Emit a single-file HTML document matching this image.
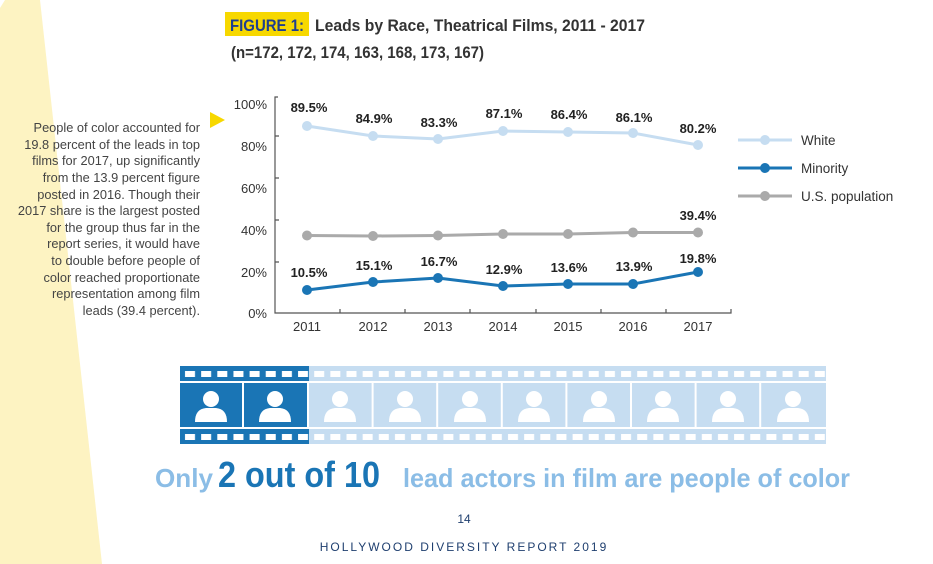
<!DOCTYPE html>
<html><head><meta charset="utf-8"><style>
html,body{margin:0;padding:0;background:#fff;}
svg{display:block;font-family:"Liberation Sans",sans-serif;}
</style></head><body>
<svg width="933" height="564" viewBox="0 0 933 564" xmlns="http://www.w3.org/2000/svg">
<defs>
<pattern id="holesD" x="182" y="0" width="16.15" height="564" patternUnits="userSpaceOnUse">
<rect x="0" y="0" width="16.15" height="564" fill="#1a75b5"/>
<rect x="3" y="371" width="10" height="6" fill="#fff"/>
<rect x="3" y="434" width="10" height="6" fill="#fff"/>
</pattern>
<pattern id="holesL" x="182" y="0" width="16.15" height="564" patternUnits="userSpaceOnUse">
<rect x="0" y="0" width="16.15" height="564" fill="#c6ddf1"/>
<rect x="3" y="371" width="10" height="6" fill="#fff"/>
<rect x="3" y="434" width="10" height="6" fill="#fff"/>
</pattern>
<g id="person"><circle cx="0" cy="-9" r="8" fill="#fff"/><path d="M-16 14 Q-16 1 -5 0 L5 0 Q16 1 16 14 Z" fill="#fff"/></g>
</defs>
<polygon points="5,0 40,0 102,564 0,564 0,8" fill="#fdf3c2"/>
<!-- title -->
<rect x="225" y="12" width="84" height="24" fill="#f7d800"/>
<text x="230" y="31" font-size="16.5" font-weight="bold" fill="#1f3f8f" textLength="74" lengthAdjust="spacingAndGlyphs">FIGURE 1:</text>
<text x="315" y="31" font-size="16.5" font-weight="bold" fill="#333" textLength="330" lengthAdjust="spacingAndGlyphs">Leads by Race, Theatrical Films, 2011 - 2017</text>
<text x="231" y="58" font-size="16.5" font-weight="bold" fill="#333" textLength="253" lengthAdjust="spacingAndGlyphs">(n=172, 172, 174, 163, 168, 173, 167)</text>
<!-- side text -->
<g font-size="12.8" fill="#444" text-anchor="end">
<text x="200" y="132">People of color accounted for</text>
<text x="200" y="149">19.8 percent of the leads in top</text>
<text x="200" y="165">films for 2017, up significantly</text>
<text x="200" y="182">from the 13.9 percent figure</text>
<text x="200" y="199">posted in 2016. Though their</text>
<text x="200" y="215">2017 share is the largest posted</text>
<text x="200" y="232">for the group thus far in the</text>
<text x="200" y="248">report series, it would have</text>
<text x="200" y="265">to double before people of</text>
<text x="200" y="282">color reached proportionate</text>
<text x="200" y="298">representation among film</text>
<text x="200" y="315">leads (39.4 percent).</text>
</g>
<polygon points="210,112 225,120 210,128" fill="#f7d800"/>
<!-- axes -->
<g stroke="#555" stroke-width="1.2" fill="none">
<path d="M278,97 L275,97 L275,313 L731,313 L731,309"/>
<path d="M275,136 h4 M275,178 h4 M275,220 h4 M275,262 h4"/>
<path d="M340,313 v-4 M405,313 v-4 M470,313 v-4 M536,313 v-4 M601,313 v-4 M666,313 v-4"/>
</g>
<g font-size="13" fill="#333" text-anchor="end">
<text x="267" y="109">100%</text><text x="267" y="151">80%</text><text x="267" y="193">60%</text>
<text x="267" y="235">40%</text><text x="267" y="277">20%</text><text x="267" y="318">0%</text>
</g>
<g font-size="13" fill="#333" text-anchor="middle">
<text x="307" y="331">2011</text><text x="373" y="331">2012</text><text x="438" y="331">2013</text>
<text x="503" y="331">2014</text><text x="568" y="331">2015</text><text x="633" y="331">2016</text><text x="698" y="331">2017</text>
</g>
<!-- series -->
<polyline points="307,126 373,136 438,139 503,131 568,132 633,133 698,145" fill="none" stroke="#c6ddf1" stroke-width="3"/>
<g fill="#c6ddf1"><circle cx="307" cy="126" r="5"/><circle cx="373" cy="136" r="5"/><circle cx="438" cy="139" r="5"/><circle cx="503" cy="131" r="5"/><circle cx="568" cy="132" r="5"/><circle cx="633" cy="133" r="5"/><circle cx="698" cy="145" r="5"/></g>
<polyline points="307,235.5 373,236 438,235.5 503,234 568,234 633,232.5 698,232.5" fill="none" stroke="#aaa" stroke-width="3"/>
<g fill="#aaa"><circle cx="307" cy="235.5" r="5"/><circle cx="373" cy="236" r="5"/><circle cx="438" cy="235.5" r="5"/><circle cx="503" cy="234" r="5"/><circle cx="568" cy="234" r="5"/><circle cx="633" cy="232.5" r="5"/><circle cx="698" cy="232.5" r="5"/></g>
<polyline points="307,290 373,282 438,278 503,286 568,284 633,284 698,272" fill="none" stroke="#1a75b5" stroke-width="3"/>
<g fill="#1a75b5"><circle cx="307" cy="290" r="5"/><circle cx="373" cy="282" r="5"/><circle cx="438" cy="278" r="5"/><circle cx="503" cy="286" r="5"/><circle cx="568" cy="284" r="5"/><circle cx="633" cy="284" r="5"/><circle cx="698" cy="272" r="5"/></g>
<g font-size="13" font-weight="bold" fill="#222" text-anchor="middle">
<text x="309" y="112">89.5%</text><text x="374" y="123">84.9%</text><text x="439" y="127">83.3%</text>
<text x="504" y="118">87.1%</text><text x="569" y="119">86.4%</text><text x="634" y="122">86.1%</text><text x="698" y="133">80.2%</text>
<text x="698" y="220">39.4%</text>
<text x="309" y="277">10.5%</text><text x="374" y="270">15.1%</text><text x="439" y="266">16.7%</text>
<text x="504" y="274">12.9%</text><text x="569" y="272">13.6%</text><text x="634" y="271">13.9%</text><text x="698" y="263">19.8%</text>
</g>
<!-- legend -->
<line x1="738" y1="140" x2="792" y2="140" stroke="#c6ddf1" stroke-width="3"/><circle cx="765" cy="140" r="5" fill="#c6ddf1"/>
<line x1="738" y1="168" x2="792" y2="168" stroke="#1a75b5" stroke-width="3"/><circle cx="765" cy="168" r="5" fill="#1a75b5"/>
<line x1="738" y1="196" x2="792" y2="196" stroke="#aaa" stroke-width="3"/><circle cx="765" cy="196" r="5" fill="#aaa"/>
<g font-size="13.5" fill="#333"><text x="801" y="145">White</text><text x="801" y="173">Minority</text><text x="801" y="201">U.S. population</text></g>
<!-- film strip -->
<rect x="180" y="366" width="129" height="15" fill="url(#holesD)"/>
<rect x="180" y="429" width="129" height="15" fill="url(#holesD)"/>
<rect x="309" y="366" width="517" height="15" fill="url(#holesL)"/>
<rect x="309" y="429" width="517" height="15" fill="url(#holesL)"/>
<g>
<rect x="180" y="383" width="62" height="44" fill="#1a75b5"/>
<rect x="244" y="383" width="63" height="44" fill="#1a75b5"/>
<rect x="309" y="383" width="62.6" height="44" fill="#c6ddf1"/>
<rect x="373.6" y="383" width="62.6" height="44" fill="#c6ddf1"/>
<rect x="438.2" y="383" width="62.6" height="44" fill="#c6ddf1"/>
<rect x="502.8" y="383" width="62.6" height="44" fill="#c6ddf1"/>
<rect x="567.4" y="383" width="62.6" height="44" fill="#c6ddf1"/>
<rect x="632" y="383" width="62.6" height="44" fill="#c6ddf1"/>
<rect x="696.6" y="383" width="62.6" height="44" fill="#c6ddf1"/>
<rect x="761.2" y="383" width="64.8" height="44" fill="#c6ddf1"/>
</g>
<use href="#person" x="211" y="408"/><use href="#person" x="275" y="408"/>
<use href="#person" x="340" y="408"/><use href="#person" x="405" y="408"/><use href="#person" x="470" y="408"/>
<use href="#person" x="534" y="408"/><use href="#person" x="599" y="408"/><use href="#person" x="663" y="408"/>
<use href="#person" x="728" y="408"/><use href="#person" x="793" y="408"/>
<!-- headline -->
<g font-weight="bold">
<text x="155" y="487" font-size="26" fill="#8bbde6" textLength="58" lengthAdjust="spacingAndGlyphs">Only</text>
<text x="218" y="487" font-size="36" fill="#1a75b5" textLength="162" lengthAdjust="spacingAndGlyphs">2 out of 10</text>
<text x="403" y="487" font-size="26" fill="#8bbde6" textLength="447" lengthAdjust="spacingAndGlyphs">lead actors in film are people of color</text>
</g>
<text x="464" y="523" font-size="12" fill="#1f3f6f" text-anchor="middle">14</text>
<text x="464" y="551" font-size="12" fill="#1f3f6f" text-anchor="middle" letter-spacing="2">HOLLYWOOD DIVERSITY REPORT 2019</text>
</svg>
</body></html>
